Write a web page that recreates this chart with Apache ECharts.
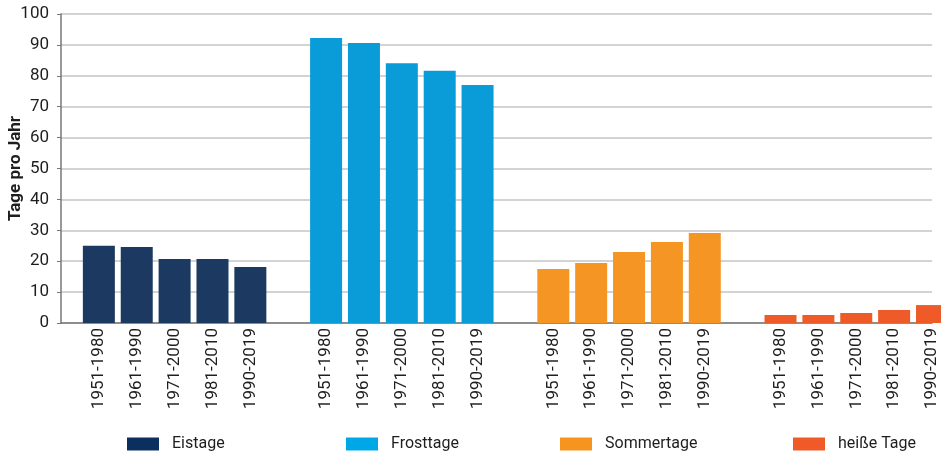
<!DOCTYPE html>
<html>
<head>
<meta charset="utf-8">
<script src="https://cdn.jsdelivr.net/npm/echarts@6/dist/echarts.min.js"></script>
<style>
  html, body { margin: 0; padding: 0; background: #fff; }
  #chart { width: 941px; height: 458px; }
</style>
</head>
<body>
<div id="chart"></div>
<script>
// Zeiträume und Werte (Tage pro Jahr)
const periods = ['1951-1980', '1961-1990', '1971-2000', '1981-2010', '1990-2019']
const groupNames = ['Eistage', 'Frosttage', 'Sommertage', 'heiße Tage']
const eistage = [25.0, 24.6, 20.7, 20.7, 18.1]
const frosttage = [92.2, 90.6, 84.1, 81.6, 77.0]
const sommertage = [17.5, 19.4, 23.0, 26.2, 29.1]
const heisseTage = [2.6, 2.6, 3.2, 4.2, 5.8]
const yTicks = [0, 10, 20, 30, 40, 50, 60, 70, 80, 90, 100]

const barColors = ['#1c3961', '#0a9cd9', '#f59523', '#ee5b28']
const legendColors = ['#0b2f5f', '#00a7e6', '#f7941d', '#f05a28']
const legendLeft = [127, 346, 560, 793]
const groups = [eistage, frosttage, sommertage, heisseTage]

// Kategorien: vor jeder Gruppe ein leerer Platz
const categories = []
groups.forEach(() => {
  categories.push('')
  periods.forEach(p => categories.push(p))
})

const series = groups.map((vals, g) => {
  const data = categories.map(() => '-')
  vals.forEach((v, i) => { data[g * 6 + 1 + i] = v })
  return {
    name: groupNames[g],
    type: 'bar',
    data: data,
    barWidth: 32,
    barGap: '-100%',
    clip: false,
    itemStyle: { color: barColors[g] },
    emphasis: { disabled: true }
  }
})

const font = 'Roboto, "Open Sans", sans-serif'

const chart = echarts.init(document.getElementById('chart'))
chart.setOption({
  animation: false,
  grid: { left: 61, right: 9, top: 14, bottom: 135, containLabel: false, outerBoundsMode: 'none' },
  xAxis: {
    type: 'category',
    data: categories,
    boundaryGap: false,
    axisLine: { lineStyle: { color: '#777', width: 1.5 } },
    axisTick: { show: false },
    axisLabel: {
      rotate: 90,
      interval: 0,
      margin: 5,
      color: '#1e1e1e',
      fontSize: 17,
      fontFamily: font
    }
  },
  yAxis: {
    type: 'value',
    min: yTicks[0],
    max: yTicks[yTicks.length - 1],
    interval: 10,
    name: 'Tage pro Jahr',
    nameLocation: 'middle',
    nameGap: 37,
    nameMoveOverlap: false,
    nameTextStyle: { fontSize: 17, fontWeight: 'bold', color: '#1e1e1e', fontFamily: font },
    axisLine: { show: true, lineStyle: { color: '#777', width: 1.5 } },
    axisTick: { show: true, length: 4, lineStyle: { color: '#777' } },
    axisLabel: { margin: 12, color: '#1e1e1e', fontSize: 17, fontFamily: font },
    splitLine: { lineStyle: { color: '#c4c4c4', width: 1.5 } }
  },
  legend: groupNames.map((n, g) => ({
    data: [{ name: n, itemStyle: { color: legendColors[g] } }],
    left: legendLeft[g],
    top: 436,
    padding: 0,
    itemWidth: 32,
    itemHeight: 13,
    icon: 'rect',
    selectedMode: false,
    textStyle: { fontSize: 16, color: '#1e1e1e', fontFamily: font, padding: [0, 0, 0, 8] }
  })),
  series: series
})
</script>
</body>
</html>
